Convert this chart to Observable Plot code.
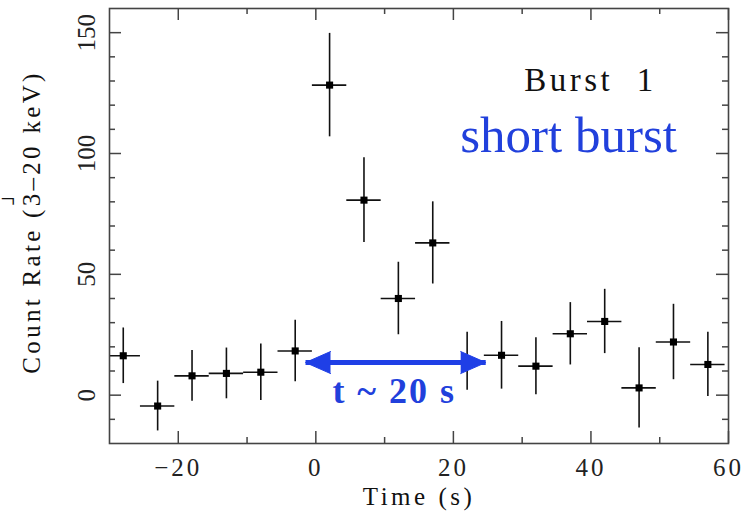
<!DOCTYPE html>
<html><head><meta charset="utf-8">
<script src="https://cdn.jsdelivr.net/npm/d3@7"></script>
<script src="https://cdn.jsdelivr.net/npm/@observablehq/plot@0.6"></script>
<style>
body{margin:0;background:#fff}
</style></head><body><div id="chart"></div><script>
// Data (5 s bins)
const time    = [-28, -23, -18, -13, -8, -3, 2, 7, 12, 17, 22, 27, 32, 37, 42, 47, 52, 57];
const rate    = [16.3, -4.5, 8, 9, 9.5, 18.3, 128.3, 80.7, 40, 63, 14, 16.5, 12, 25.4, 30.5, 3, 22, 12.7];
const rateErr = [11.5, 10.3, 10.5, 10.5, 11.7, 12.7, 21.4, 17.5, 15, 17, 12, 14, 11.8, 12.9, 13.3, 16.6, 15.6, 13.3];
const binHalfWidth = 2.5;

const xMajorTicks = [-20, 0, 20, 40, 60];
const xMinorTicks = [-10, 10, 30, 50];
const yMajorTicks = [0, 50, 100, 150];
const yMinorTicks = [-10, 10, 20, 30, 40, 60, 70, 80, 90, 110, 120, 130, 140];

const xTitle = "Time (s)";
const yTitle = "Count Rate (3–20 keV)";
const burstLabel = "Burst  1";
const typeLabel = "short burst";
const durationLabel = "t ~ 20 s";
// annotation arrow (data units)
const arrowX = [-1.5, 24.7];
const arrowY = [13.5];
const durationPos = [{x: 11.4, y: -3.4}];
const burstPos = [{x: 30.3, y: 125.7}];
const typePos = [{x: 21.0, y: 100.8}];

const W = 747, H = 518, mL = 109, mR = 19, mT = 8, mB = 75;
const fw = W - mL - mR, fh = H - mT - mB;
const major = 12, minor = 6;
const ink = "#111", frameColor = "#444", blue = "#1f3fe6", textBlue = "#2140dc";
const fmt = d => (d < 0 ? "\u2212" + Math.abs(d) : String(d));

const data = time.map((t, i) => ({t, r: rate[i], e: rateErr[i]}));

const tickStyle = {stroke: frameColor, strokeWidth: 1.5};

const chart = Plot.plot({
  width: W, height: H,
  marginLeft: mL, marginRight: mR, marginTop: mT, marginBottom: mB,
  x: {domain: [-30, 60], axis: null},
  y: {domain: [-20, 160], axis: null},
  style: {fontFamily: "'Liberation Serif', serif", background: "#fff", color: "#111"},
  marks: [
    // ticks (inward on all four sides)
    Plot.tickX(xMajorTicks, {x: d => d, insetTop: fh - major, ...tickStyle}),
    Plot.tickX(xMinorTicks, {x: d => d, insetTop: fh - minor, ...tickStyle}),
    Plot.tickX(xMajorTicks, {x: d => d, insetBottom: fh - major, ...tickStyle}),
    Plot.tickX(xMinorTicks, {x: d => d, insetBottom: fh - minor, ...tickStyle}),
    Plot.tickY(yMajorTicks, {y: d => d, insetRight: fw - major, ...tickStyle}),
    Plot.tickY(yMinorTicks, {y: d => d, insetRight: fw - minor, ...tickStyle}),
    Plot.tickY(yMajorTicks, {y: d => d, insetLeft: fw - major, ...tickStyle}),
    Plot.tickY(yMinorTicks, {y: d => d, insetLeft: fw - minor, ...tickStyle}),
    // error bars
    Plot.ruleY(data, {y: "r", x1: d => d.t - binHalfWidth, x2: d => d.t + binHalfWidth, stroke: ink, strokeWidth: 1.6, clip: true}),
    Plot.ruleX(data, {x: "t", y1: d => d.r - d.e, y2: d => d.r + d.e, stroke: ink, strokeWidth: 1.6, clip: true}),
    Plot.dot(data, {x: "t", y: "r", symbol: "square", r: 4, fill: "#000", stroke: "none"}),
    Plot.frame({stroke: frameColor, strokeWidth: 1.6}),
    // tick labels (x labels are the first text mark)
    Plot.text(xMajorTicks, {x: d => d, text: fmt, frameAnchor: "bottom", dy: 24, fontSize: 25, textAnchor: "middle", lineAnchor: "middle", fill: "#222"}),
    Plot.text(yMajorTicks, {y: d => d, text: fmt, frameAnchor: "left", dx: -23, rotate: -90, fontSize: 25, textAnchor: "middle", lineAnchor: "middle", fill: "#222"}),
    // axis titles
    Plot.text([xTitle], {text: d => d, frameAnchor: "bottom", dy: 53, fontSize: 25, textAnchor: "middle", lineAnchor: "middle", fill: "#111"}),
    Plot.text([yTitle], {text: d => d, frameAnchor: "left", dx: -78, dy: -4, rotate: -90, fontSize: 25, textAnchor: "middle", lineAnchor: "middle", fill: "#111"}),
    Plot.text(["¬"], {text: d => d, frameAnchor: "top-left", dx: -109, dy: 190, fontSize: 26, textAnchor: "start", lineAnchor: "middle", fill: "#111"}),
    // annotations
    Plot.text(burstPos, {x: "x", y: "y", text: () => burstLabel, textAnchor: "start", lineAnchor: "bottom", fontSize: 33, fill: "#111"}),
    Plot.text(typePos, {x: "x", y: "y", text: () => typeLabel, textAnchor: "start", lineAnchor: "bottom", fontSize: 51, fill: textBlue}),
    Plot.text(durationPos, {x: "x", y: "y", text: () => durationLabel, textAnchor: "middle", lineAnchor: "bottom", fontSize: 36, fontWeight: "bold", fill: textBlue}),
    Plot.link(arrowY, {x1: () => arrowX[0], x2: () => arrowX[1], y1: d => d, y2: d => d, stroke: blue, strokeWidth: 5, insetLeft: 20, insetRight: 20}),
    Plot.vector(arrowY, {x: () => arrowX[1], y: d => d, rotate: 90, length: 25, r: 11, shape: "spike", anchor: "end", fill: blue, stroke: blue, strokeWidth: 1}),
    Plot.vector(arrowY, {x: () => arrowX[0], y: d => d, rotate: -90, length: 25, r: 11, shape: "spike", anchor: "end", fill: blue, stroke: blue, strokeWidth: 1})
  ]
});
document.getElementById("chart").appendChild(chart);

// letter spacing to mimic the wide plotting font of the original
const spacing = new Map([[xTitle, "3.5px"], [yTitle, "3.3px"], [burstLabel, "3.5px"], [durationLabel, "2px"]]);
d3.select(chart).selectAll("text").each(function() {
  const t = this.textContent;
  if (spacing.has(t)) d3.select(this).style("letter-spacing", spacing.get(t));
});
const textGroups = chart.querySelectorAll('g[aria-label="text"]');
if (textGroups.length) d3.select(textGroups[0]).selectAll("text").style("letter-spacing", "3px");
</script></body></html>
